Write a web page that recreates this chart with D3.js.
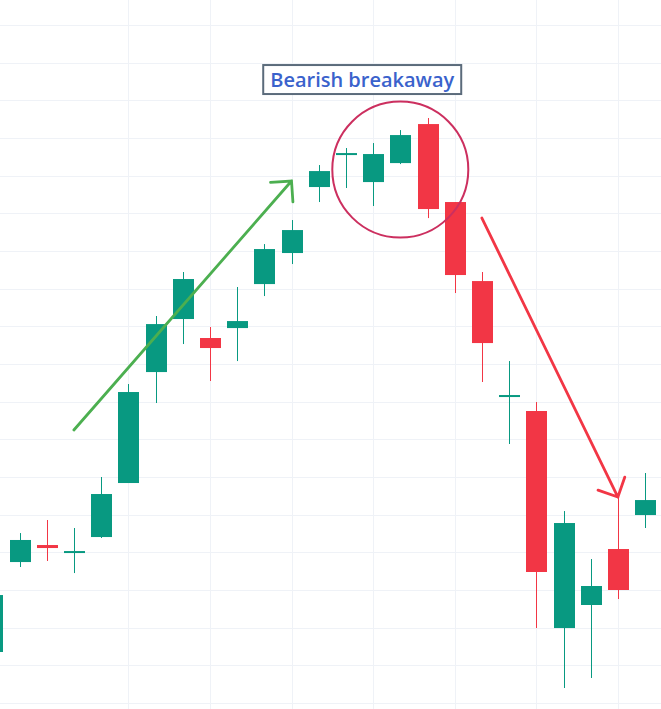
<!DOCTYPE html>
<html>
<head>
<meta charset="utf-8">
<script src="https://cdn.jsdelivr.net/npm/d3@7"></script>
<style>
    html, body { margin: 0; padding: 0; background: #fff; overflow: hidden; }
    svg { display: block; }
</style>
</head>
<body>
<div id="chart"></div>
<script>
// candles, one per session (index 0 is cut by the left edge)
const sessions = d3.range(25)
const open  = [106.77, 118.71, 120.97, 119.91, 122.03, 129.20, 143.93, 150.97, 148.45, 149.77, 155.61, 159.73, 168.49, 172.74, 169.15, 171.67, 176.85, 166.50, 156.01, 140.62, 138.76, 109.95, 113.01, 120.44, 124.95]
const high  = [115.66, 122.56, 124.29, 123.23, 130.00, 142.34, 151.37, 157.21, 149.91, 155.22, 160.92, 164.11, 171.41, 173.67, 174.33, 176.05, 177.65, 166.50, 157.21, 145.39, 139.95, 125.48, 119.11, 127.48, 130.53]
const low   = [105.71, 118.05, 118.85, 117.25, 121.90, 129.20, 139.82, 147.65, 142.74, 145.39, 154.02, 158.27, 166.50, 168.36, 165.97, 171.54, 164.37, 154.42, 142.61, 134.38, 109.95, 101.99, 103.32, 113.80, 123.23]
const close = [114.33, 121.64, 120.57, 120.17, 127.74, 141.28, 150.30, 156.28, 147.12, 150.70, 160.26, 162.78, 170.61, 173.00, 172.87, 175.39, 165.57, 156.81, 147.78, 140.88, 117.39, 123.89, 115.53, 115.00, 126.94]

// grid
const priceTicks = d3.range(100, 191, 5)
const timeTicks = [5, 8, 11, 14, 17, 20, 23]

// annotations in data terms
const label = { text: 'Bearish breakaway', i: 13.6, p: 182.76 }
const ring = { i: 15, p: 170.81 }
const upArrow = { from: [3, 136.24], to: [11, 169.29] }
const downArrow = { from: [18, 164.37], to: [23, 127.34] }

const width = 661
const height = 709
const up = '#089981'
const down = '#f23645'

const x = d3.scaleLinear().domain([0, 24]).range([-7.7, 645.1])
const y = d3.scaleLinear().domain([100, 190]).range([703, 25])
const bodyW = 21

const candles = sessions.map(i => ({ i, o: open[i], h: high[i], l: low[i], c: close[i] }))

const svg = d3.select('#chart').append('svg')
    .attr('width', width)
    .attr('height', height)

const grid = svg.append('g')
grid.selectAll('line.h')
    .data(priceTicks)
    .enter()
    .append('line')
    .attr('class', 'h')
    .attr('x1', 0).attr('x2', width)
    .attr('y1', d => Math.round(y(d)) + 0.5)
    .attr('y2', d => Math.round(y(d)) + 0.5)
    .attr('stroke', '#eff2f7')
grid.selectAll('line.v')
    .data(timeTicks)
    .enter()
    .append('line')
    .attr('class', 'v')
    .attr('y1', 0).attr('y2', height)
    .attr('x1', d => Math.round(x(d)) + 0.5)
    .attr('x2', d => Math.round(x(d)) + 0.5)
    .attr('stroke', '#eff2f7')

const g = svg.append('g')
    .selectAll('g')
    .data(candles)
    .enter()
    .append('g')
    .attr('fill', d => d.c >= d.o ? up : down)
    .attr('stroke', d => d.c >= d.o ? up : down)

g.append('line')
    .attr('x1', d => Math.round(x(d.i)) + 0.5)
    .attr('x2', d => Math.round(x(d.i)) + 0.5)
    .attr('y1', d => y(d.h))
    .attr('y2', d => y(d.l))
    .attr('stroke-width', 1)

g.append('rect')
    .attr('x', d => Math.round(x(d.i)) + 0.5 - bodyW / 2)
    .attr('width', bodyW)
    .attr('y', d => y(Math.max(d.o, d.c)))
    .attr('height', d => Math.max(2, Math.abs(y(d.o) - y(d.c))))
    .attr('stroke', 'none')

// arrows drawn as open chevrons
function arrow(a, color) {
    const x0 = x(a.from[0]), y0 = y(a.from[1])
    const x1 = x(a.to[0]), y1 = y(a.to[1])
    const ang = Math.atan2(y0 - y1, x0 - x1)
    const len = 21
    const head = [ang - Math.PI / 4, ang + Math.PI / 4]
        .map(t => [x1 + len * Math.cos(t), y1 + len * Math.sin(t)])
    const path = d3.path()
    path.moveTo(x0, y0)
    path.lineTo(x1, y1)
    path.moveTo(head[0][0], head[0][1])
    path.lineTo(x1, y1)
    path.lineTo(head[1][0], head[1][1])
    svg.append('path')
        .attr('d', path.toString())
        .attr('fill', 'none')
        .attr('stroke', color)
        .attr('stroke-width', 2.8)
        .attr('stroke-linecap', 'round')
        .attr('stroke-linejoin', 'miter')
}
arrow(upArrow, '#4caf50')
arrow(downArrow, '#f23645')

svg.append('circle')
    .attr('cx', x(ring.i))
    .attr('cy', y(ring.p))
    .attr('r', 68)
    .attr('fill', 'none')
    .attr('stroke', '#cc2f5f')
    .attr('stroke-width', 2)

const lbl = svg.append('g')
    .attr('transform', `translate(${x(label.i)},${y(label.p)})`)
lbl.append('rect')
    .attr('x', -99).attr('y', -14.5)
    .attr('width', 198).attr('height', 29)
    .attr('fill', '#fff')
    .attr('stroke', '#5b6b7b')
    .attr('stroke-width', 2)
lbl.append('text')
    .attr('text-anchor', 'middle')
    .attr('dy', '0.36em')
    .attr('font-family', '"Open Sans", sans-serif')
    .attr('font-weight', 600)
    .attr('font-size', 20)
    .attr('fill', '#3a62cc')
    .text(label.text)
</script>
</body>
</html>
